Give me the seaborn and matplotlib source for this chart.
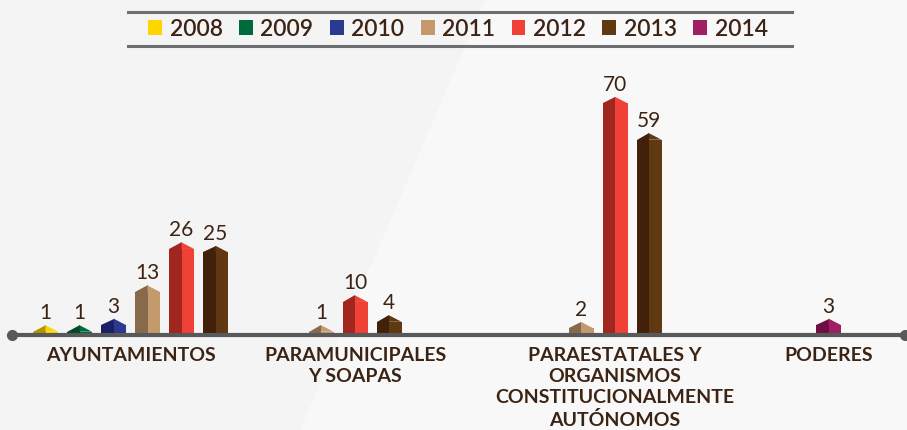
import numpy as np
import pandas as pd
import matplotlib
matplotlib.use("Agg")
import matplotlib.pyplot as plt
from matplotlib.patches import Polygon, Rectangle
from matplotlib.lines import Line2D
import matplotlib.colors as mcolors
import seaborn as sns

# ---------------- data ----------------
categories = [
    "AYUNTAMIENTOS",
    "PARAMUNICIPALES\nY SOAPAS",
    "PARAESTATALES Y\nORGANISMOS\nCONSTITUCIONALMENTE\nAUTÓNOMOS",
    "PODERES",
]
years = ["2008", "2009", "2010", "2011", "2012", "2013", "2014"]

ayuntamientos_years = ["2008", "2009", "2010", "2011", "2012", "2013"]
ayuntamientos_values = [1, 1, 3, 13, 26, 25]
paramunicipales_years = ["2011", "2012", "2013"]
paramunicipales_values = [1, 10, 4]
paraestatales_years = ["2011", "2012", "2013"]
paraestatales_values = [2, 70, 59]
poderes_years = ["2014"]
poderes_values = [3]

# ---------------- style / layout ----------------
light_colors = ["#FFD500", "#006B3A", "#2B3990", "#C49A6C", "#EF4136", "#603913", "#9E1F63"]
dark_colors = ["#B39500", "#004A28", "#1B1F66", "#866A4B", "#A0261F", "#42210B", "#6D0F45"]
TEXT = "#3C2415"
W, H = 907, 430
group_centers = [130.5, 355, 615, 828.5]   # pixel positions of group centres
pitch = 34                                  # distance between bar centres (px)
bar_w = 25                                  # bar width (px)
base_px = 95                                # baseline height from bottom (px)
px_per_unit = 3.31
cap_px = 6.5

plt.rcParams["font.family"] = ["Lato", "DejaVu Sans"]

groups = [
    (ayuntamientos_years, ayuntamientos_values),
    (paramunicipales_years, paramunicipales_values),
    (paraestatales_years, paraestatales_values),
    (poderes_years, poderes_values),
]
rows = []
for gi, (yrs, vals) in enumerate(groups):
    n = len(yrs)
    for j, (yr, v) in enumerate(zip(yrs, vals)):
        rows.append({"pos": group_centers[gi] + (j - (n - 1) / 2) * pitch,
                     "year": yr, "value": v, "group": categories[gi]})
df = pd.DataFrame(rows)

fig = plt.figure(figsize=(W / 100, H / 100), dpi=100)
fig.patch.set_facecolor("#F8F8F8")

# subtle diagonal background band
fig.add_artist(Polygon([(0, 0), (0, 1), (485 / W, 1), (300 / W, 0)],
                       closed=True, transform=fig.transFigure,
                       facecolor="#F4F4F4", edgecolor="none", zorder=0))

ax = fig.add_axes([0, 0, 1, 1])
ax.set_facecolor("none")

sns.barplot(data=df, x="pos", y="value", hue="year", hue_order=years,
            palette=light_colors, native_scale=True, dodge=False,
            width=bar_w / pitch, saturation=1, linewidth=0, ax=ax,
            errorbar=None, legend=True)

ax.set_xlim(0, W)
ax.set_ylim(-base_px / px_per_unit, (H - base_px) / px_per_unit)
ax.axis("off")

light2dark = {mcolors.to_hex(l): d for l, d in zip(light_colors, dark_colors)}
cap = cap_px / px_per_unit
bars = [p for c in ax.containers for p in c]
for p in bars:
    x0, w, h = p.get_x(), p.get_width(), p.get_height()
    if np.isnan(h) or h == 0:
        continue
    light = mcolors.to_hex(p.get_facecolor())
    dark = light2dark.get(light, light)
    ax.add_patch(Rectangle((x0, 0), w / 2, h, facecolor=dark, edgecolor="none", zorder=3))
    ax.add_patch(Polygon([(x0, h), (x0 + w / 2, h), (x0 + w / 2, h + cap)],
                         closed=True, facecolor=dark, edgecolor="none", zorder=3))
    ax.add_patch(Polygon([(x0 + w / 2, h), (x0 + w, h), (x0 + w / 2, h + cap)],
                         closed=True, facecolor=light, edgecolor="none", zorder=3))
    ax.text(x0 + w / 2, h + cap + 2 / px_per_unit, f"{h:g}", ha="center", va="bottom",
            fontsize=15, fontweight="normal", color=TEXT, zorder=5)

# baseline axis with end dots
ax.plot([12, 905], [0, 0], color="#58595B", lw=3, zorder=4, solid_capstyle="butt")
ax.plot([12, 905], [0, 0], "o", color="#58595B", ms=7, zorder=4)

# category labels
for gi, cat in enumerate(categories):
    ax.text(group_centers[gi], -12 / px_per_unit, cat, ha="center", va="top",
            fontsize=14, fontweight="bold", color=TEXT, linespacing=1.3,
            zorder=5)

# legend
sns.move_legend(ax, "center", bbox_to_anchor=(458 / W, 1 - 29 / H), ncol=7,
                frameon=False, title=None, handlelength=0.6, handleheight=0.6,
                handletextpad=0.33, columnspacing=0.72,
                prop={"family": "Lato", "size": 16.5, "weight": "semibold"},
                labelcolor=TEXT)

for yy in (12, 46):
    fig.add_artist(Line2D([128 / W, 792 / W], [1 - yy / H, 1 - yy / H],
                          transform=fig.transFigure, color="#6D6E71", lw=2.2))

fig.savefig("out.png", dpi=100, facecolor=fig.get_facecolor())
